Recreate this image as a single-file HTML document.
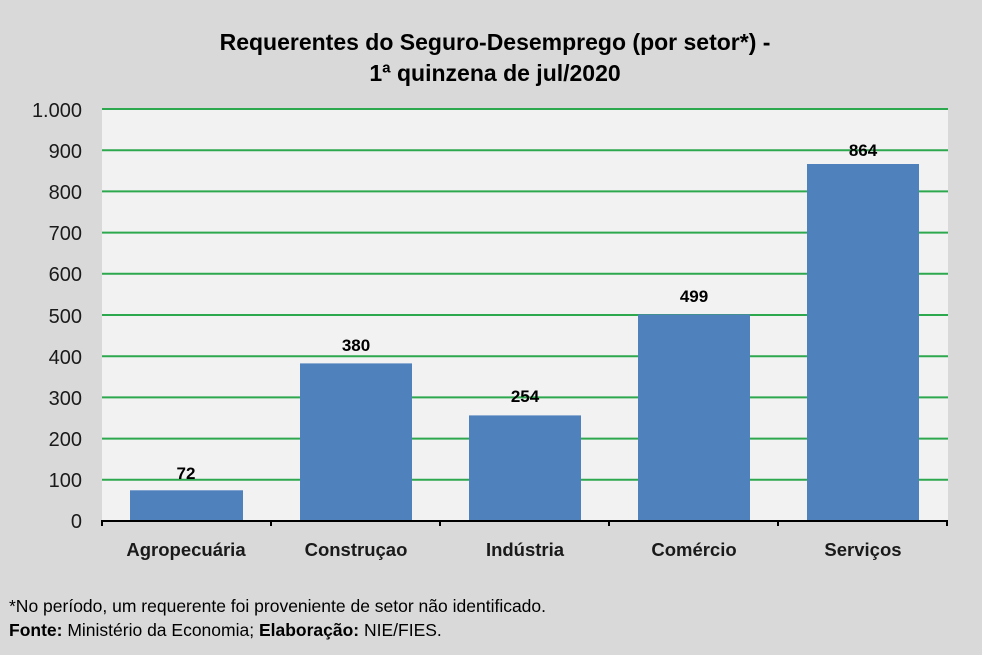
<!DOCTYPE html>
<html><head><meta charset="utf-8"><style>
body{margin:0;background:#d9d9d9;}
svg{display:block;font-family:"Liberation Sans",Arial,sans-serif;}
</style></head><body>
<svg width="982" height="655" viewBox="0 0 982 655" xmlns="http://www.w3.org/2000/svg">
<rect width="982" height="655" fill="#d9d9d9"/>
<rect x="102" y="109" width="846" height="411" fill="#f2f2f2"/>
<g stroke="#2ea84f" stroke-width="2">
<line x1="102" y1="109" x2="948" y2="109"/>
<line x1="102" y1="150.2" x2="948" y2="150.2"/>
<line x1="102" y1="191.4" x2="948" y2="191.4"/>
<line x1="102" y1="232.6" x2="948" y2="232.6"/>
<line x1="102" y1="273.8" x2="948" y2="273.8"/>
<line x1="102" y1="315" x2="948" y2="315"/>
<line x1="102" y1="356.2" x2="948" y2="356.2"/>
<line x1="102" y1="397.4" x2="948" y2="397.4"/>
<line x1="102" y1="438.6" x2="948" y2="438.6"/>
<line x1="102" y1="479.8" x2="948" y2="479.8"/>
</g>
<g fill="#4f81bd">
<rect x="130" y="490.3" width="113" height="29.7"/>
<rect x="300" y="363.4" width="112" height="156.6"/>
<rect x="469" y="415.4" width="112" height="104.6"/>
<rect x="638" y="314.4" width="112" height="205.6"/>
<rect x="807" y="164" width="112" height="356"/>
</g>
<g stroke="#000" stroke-width="2">
<line x1="101" y1="521" x2="948" y2="521"/>
<line x1="102" y1="520" x2="102" y2="526"/>
<line x1="271" y1="520" x2="271" y2="526"/>
<line x1="440" y1="520" x2="440" y2="526"/>
<line x1="609" y1="520" x2="609" y2="526"/>
<line x1="778" y1="520" x2="778" y2="526"/>
<line x1="947" y1="520" x2="947" y2="526"/>
</g>
<g font-size="20" fill="#1a1a1a" text-anchor="end">
<text x="82" y="117">1.000</text>
<text x="82" y="158">900</text>
<text x="82" y="199">800</text>
<text x="82" y="240">700</text>
<text x="82" y="281">600</text>
<text x="82" y="323">500</text>
<text x="82" y="364">400</text>
<text x="82" y="405">300</text>
<text x="82" y="446">200</text>
<text x="82" y="487">100</text>
<text x="82" y="528">0</text>
</g>
<g font-size="17" font-weight="bold" fill="#000" text-anchor="middle">
<text x="186" y="479">72</text>
<text x="356" y="351">380</text>
<text x="525" y="402">254</text>
<text x="694" y="302">499</text>
<text x="863" y="156">864</text>
</g>
<g font-size="18.5" font-weight="bold" fill="#1a1a1a" text-anchor="middle">
<text x="186" y="556">Agropecuária</text>
<text x="356" y="556">Construçao</text>
<text x="525" y="556">Indústria</text>
<text x="694" y="556">Comércio</text>
<text x="863" y="556">Serviços</text>
</g>
<g font-size="23" font-weight="bold" fill="#000" text-anchor="middle">
<text x="495" y="50">Requerentes do Seguro-Desemprego (por setor*) -</text>
<text x="495" y="81">1ª quinzena de jul/2020</text>
</g>
<g font-size="17.5" fill="#000">
<text x="9" y="612">*No período, um requerente foi proveniente de setor não identificado.</text>
<text x="9" y="636"><tspan font-weight="bold">Fonte:</tspan> Ministério da Economia; <tspan font-weight="bold">Elaboração:</tspan> NIE/FIES.</text>
</g>
</svg>
</body></html>
